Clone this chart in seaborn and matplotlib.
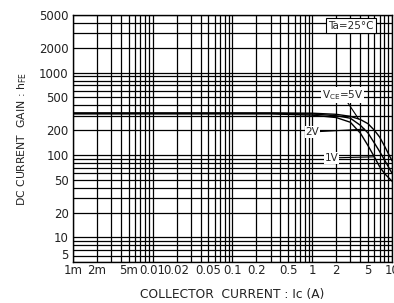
import numpy as np
import pandas as pd
import matplotlib
matplotlib.use("Agg")
import matplotlib.pyplot as plt
import seaborn as sns

# ---- data ----
ic = [0.001, 0.01, 0.1, 0.3, 1, 2, 3, 4, 5, 6, 7, 8, 10]
hfe_5v = [325, 325, 325, 325, 322, 312, 295, 270, 240, 200, 165, 130, 85]
hfe_2v = [320, 320, 320, 320, 315, 300, 280, 230, 185, 140, 110, 88, 60]
hfe_1v = [316, 316, 316, 316, 305, 285, 250, 185, 130, 95, 72, 60, 48]
series_names = ["5V", "2V", "1V"]

x_tick_vals = [0.001, 0.002, 0.005, 0.01, 0.02, 0.05, 0.1, 0.2, 0.5, 1, 2, 5, 10]
x_tick_labels = ["1m", "2m", "5m", "0.01", "0.02", "0.05", "0.1", "0.2", "0.5", "1", "2", "5", "10"]
y_tick_vals = [5, 10, 20, 50, 100, 200, 500, 1000, 2000, 5000]
y_tick_labels = ["5", "10", "20", "50", "100", "200", "500", "1000", "2000", "5000"]

df = pd.DataFrame({
    "Ic": ic * 3,
    "hFE": hfe_5v + hfe_2v + hfe_1v,
    "Vce": [series_names[0]] * len(ic) + [series_names[1]] * len(ic) + [series_names[2]] * len(ic),
})

sns.set_style("white")
plt.rcParams['font.family'] = ['DejaVu Sans']

fig = plt.figure(figsize=(3.94, 3.03), dpi=100)
ax = fig.add_axes([0.185, 0.135, 0.81, 0.815])

sns.lineplot(data=df, x="Ic", y="hFE", hue="Vce",
             palette=["black", "black", "black"], linewidth=1.0,
             legend=False, ax=ax, zorder=3)

ax.set_xscale("log")
ax.set_yscale("log")
ax.set_xlim(0.001, 10)
ax.set_ylim(5, 5000)

# grid at every n*10^k
xg = [m * 10.0 ** k for k in range(-3, 1) for m in range(1, 10)] + [10]
yg = [m * 10.0 ** k for k in range(0, 4) for m in range(1, 10)]
yg = [v for v in yg if 5 <= v <= 5000]
xg_labels = []
for v in xg:
    lab = ""
    for t, l in zip(x_tick_vals, x_tick_labels):
        if abs(v - t) / t < 1e-6:
            lab = l
    xg_labels.append(lab)
yg_labels = []
for v in yg:
    lab = ""
    for t, l in zip(y_tick_vals, y_tick_labels):
        if abs(v - t) / t < 1e-6:
            lab = l
    yg_labels.append(lab)

ax.set_xticks(xg)
ax.set_xticklabels(xg_labels)
ax.set_yticks(yg)
ax.set_yticklabels(yg_labels)
ax.minorticks_off()
ax.tick_params(axis="both", length=0, labelsize=8.5, colors="#222222")
ax.tick_params(axis="x", pad=1.5)
ax.tick_params(axis="y", pad=3)
ax.grid(True, which="major", color="black", linewidth=0.9)
for s in ax.spines.values():
    s.set_color("black")
    s.set_linewidth(1.0)
# lowest y label sits just above the axis corner, as in the reference
for lbl in ax.get_yticklabels():
    if lbl.get_text() == "5":
        lbl.set_va("bottom")

ax.set_xlabel("COLLECTOR  CURRENT : Ic (A)", fontsize=8.8, color="#222222", labelpad=8)
ax.set_ylabel(r"DC CURRENT  GAIN : h$_{\rm FE}$", fontsize=7.8, color="#222222", labelpad=7)

# annotations
ax.text(0.872, 0.958, "Ta=25°C", transform=ax.transAxes, fontsize=7.5,
        ha="center", va="center", zorder=5,
        bbox=dict(facecolor="white", edgecolor="black", linewidth=0.8, pad=1.5))
ax.annotate(r"V$_{\rm CE}$=5V", xy=(3.8, 275), xytext=(0.845, 0.677),
            textcoords="axes fraction", fontsize=7.5, ha="center", va="center", zorder=5,
            bbox=dict(facecolor="white", edgecolor="none", pad=0.5),
            arrowprops=dict(arrowstyle="-", color="black", lw=0.8, shrinkA=0, shrinkB=0))
ax.annotate("2V", xy=(4.5, 206), xytext=(0.75, 0.527),
            textcoords="axes fraction", fontsize=7.5, ha="center", va="center", zorder=5,
            bbox=dict(facecolor="white", edgecolor="none", pad=0.5),
            arrowprops=dict(arrowstyle="-", color="black", lw=0.8, shrinkA=0, shrinkB=0))
ax.annotate("1V", xy=(6.0, 95), xytext=(0.81, 0.422),
            textcoords="axes fraction", fontsize=7.5, ha="center", va="center", zorder=5,
            bbox=dict(facecolor="white", edgecolor="none", pad=0.5),
            arrowprops=dict(arrowstyle="-", color="black", lw=0.8, shrinkA=0, shrinkB=0))

fig.savefig("out.png", dpi=100, facecolor="white")
